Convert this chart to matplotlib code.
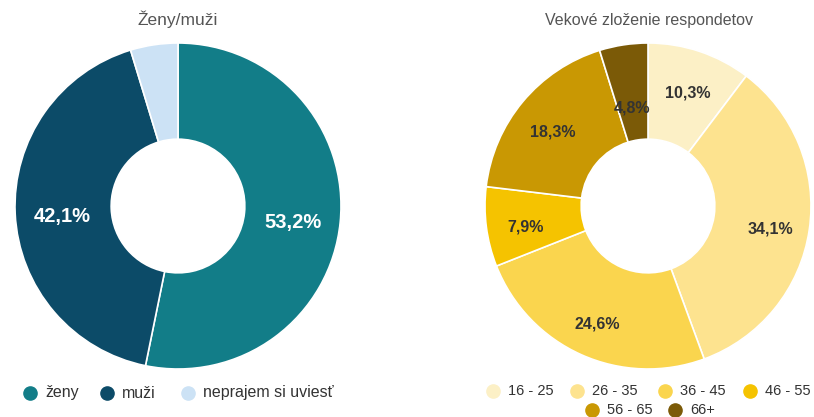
import matplotlib
matplotlib.use("Agg")
import matplotlib.pyplot as plt
from matplotlib.lines import Line2D
import numpy as np

plt.rcParams['font.family'] = ['Liberation Sans', 'DejaVu Sans']

gender_labels = ["ženy", "muži", "neprajem si uviesť"]
gender_values = [53.2, 42.1, 4.7]
gender_colors = ["#127d88", "#0c4b68", "#cce2f5"]

age_labels = ["16 - 25", "26 - 35", "36 - 45", "46 - 55", "56 - 65", "66+"]
age_values = [10.3, 34.1, 24.6, 7.9, 18.3, 4.8]
age_colors = ["#fcf0c6", "#fde38f", "#fad54e", "#f5c300", "#c99803", "#7b5a07"]

W, H = 814, 417
fig = plt.figure(figsize=(W / 100, H / 100), dpi=100)

def pie_axes(cx, cy, r):
    return fig.add_axes([(cx - r) / W, (H - cy - r) / H, 2 * r / W, 2 * r / H])

def fmt(v):
    return f"{v:.1f}".replace(".", ",") + "%"

def fx(px):
    return px / W

def fy(py):
    return 1 - py / H

# ---- left donut
ax1 = pie_axes(178, 206, 163)
wedges, _ = ax1.pie(gender_values, colors=gender_colors, startangle=90, counterclock=False,
                    wedgeprops=dict(width=0.59, edgecolor="white", linewidth=1.2))
for w, v in zip(wedges, gender_values):
    if v < 5:
        continue
    ang = np.deg2rad((w.theta1 + w.theta2) / 2)
    ax1.text(0.71 * np.cos(ang), 0.71 * np.sin(ang) - 0.03, fmt(v), ha="center", va="center",
             color="white", fontsize=14.5, fontweight="bold")
ax1.set_xlim(-1, 1); ax1.set_ylim(-1, 1); ax1.set_aspect("equal")
fig.text(fx(178), fy(19), "Ženy/muži", ha="center", va="center", fontsize=12.5, color="#555555")

# ---- right donut
ax2 = pie_axes(648, 206, 163)
wedges2, _ = ax2.pie(age_values, colors=age_colors, startangle=90, counterclock=False,
                     wedgeprops=dict(width=0.59, edgecolor="white", linewidth=1.2))
for w, v in zip(wedges2, age_values):
    ang = np.deg2rad((w.theta1 + w.theta2) / 2)
    r = 0.64 if v < 6 else 0.76
    ax2.text(r * np.cos(ang), r * np.sin(ang) - 0.03, fmt(v), ha="center", va="center",
             color="#333333", fontsize=11.5, fontweight="bold")
ax2.set_xlim(-1, 1); ax2.set_ylim(-1, 1); ax2.set_aspect("equal")
fig.text(fx(649), fy(20), "Vekové zloženie respondetov", ha="center", va="center",
         fontsize=11.5, color="#555555")

# ---- legends (manual layout)
def legend_item(mx, my, label, color, fontsize):
    fig.add_artist(Line2D([fx(mx)], [fy(my)], marker="o", linestyle="", markersize=9.5,
                          markerfacecolor=color, markeredgecolor=color,
                          transform=fig.transFigure))
    fig.text(fx(mx + 15), fy(my), label, ha="left", va="center", fontsize=fontsize,
             color="#333333")

left_pos = [(30, 393), (107, 393), (188, 393)]
for (mx, my), l, c in zip(left_pos, gender_labels, gender_colors):
    legend_item(mx, my, l, c, 11.5)

right_pos = [(493, 391), (577, 391), (665, 391), (750, 391), (592, 410), (675, 410)]
for (mx, my), l, c in zip(right_pos, age_labels, age_colors):
    legend_item(mx, my, l, c, 10.5)

fig.savefig("out.png", dpi=100, facecolor="white")
